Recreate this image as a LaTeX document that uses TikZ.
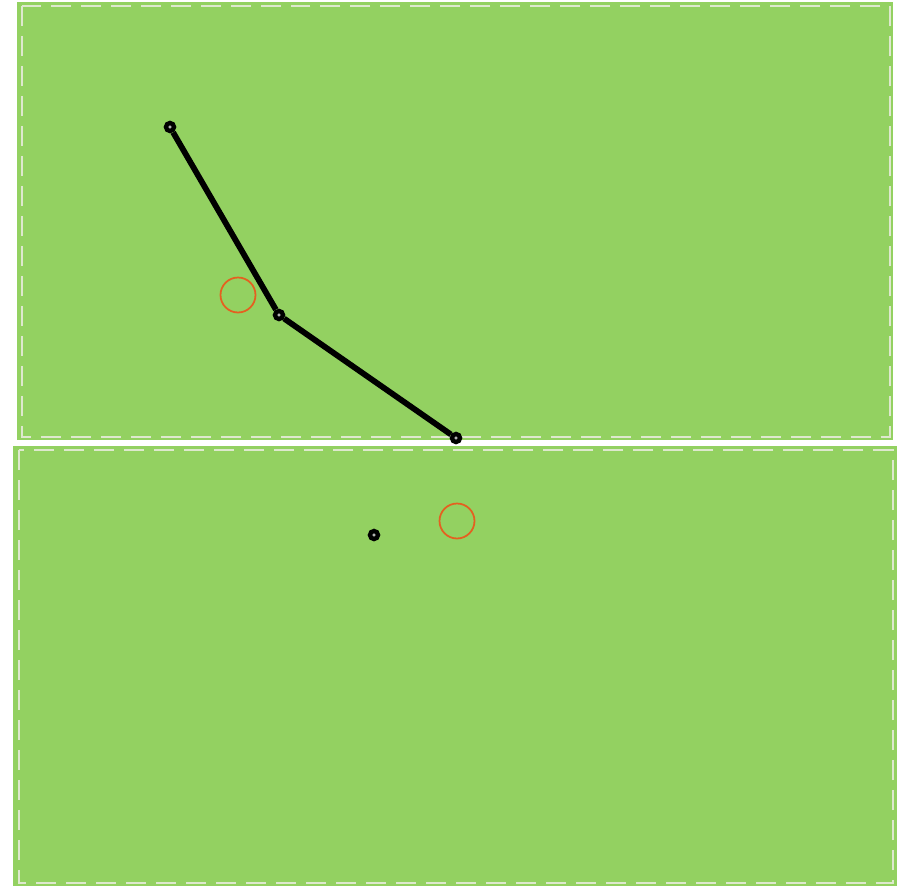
\documentclass[tikz,border=0pt]{standalone}
\usepackage{xcolor}
\usepackage{tikz}
\usetikzlibrary{positioning,calc}

\definecolor{fieldgreen}{RGB}{147,209,97}
\definecolor{markred}{RGB}{228,96,32}
\definecolor{edgewhite}{RGB}{222,232,206}

\begin{document}
\begin{tikzpicture}[
    x=0.02cm, y=-0.02cm,
    panel/.style={fill=fieldgreen},
    border/.style={draw=edgewhite, line width=1.6pt, dash pattern=on 0.4cm off 0.2cm},
    joint/.style={draw=black, circle, line width=2.5pt, fill=gray!60, minimum size=0.16cm, inner sep=0pt},
    target/.style={draw=markred, circle, line width=1pt, minimum size=0.7cm, inner sep=0pt},
    link/.style={draw=black, line width=3.3pt}
]
\useasboundingbox (0,0) rectangle (906,886);

% Panels
\fill[panel] (17,2) rectangle (893,440);
\draw[border] (22,6) rectangle (890,437);
\fill[panel] (13,446) rectangle (897,886);
\draw[border] (19,450) rectangle (893,883);

% Top panel
\node[target] (goal_top) at (238,295) {};
\node[joint] (base) at (170,127) {};
\node[joint] (elbow) at (279,315) {};
\node[joint] (tip) at (456,438) {};

\draw[link] (base) -- (elbow);
\draw[link] (elbow) -- (tip);

% Bottom panel
\node[target] (goal_bot) at (457,521) {};
\node[joint] (probe) at (374,535) {};

\end{tikzpicture}
\end{document}
